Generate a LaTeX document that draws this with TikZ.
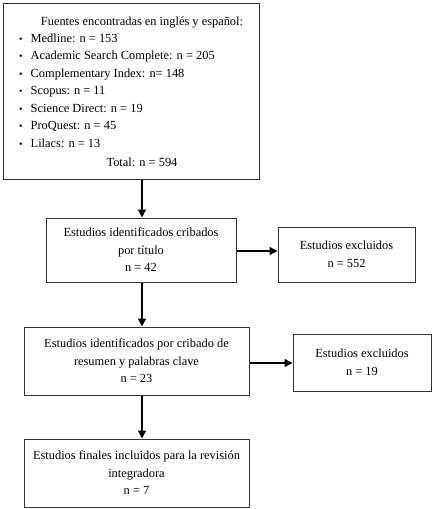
\documentclass[tikz,border=0pt]{standalone}
\usepackage{fontspec}
\setmainfont{Liberation Serif}
\usetikzlibrary{arrows.meta}
\begin{document}
\begin{tikzpicture}[x=1pt,y=-1pt,
  box/.style={draw=black!80, line width=1pt, rectangle, inner sep=0pt, align=center,
    font=\fontsize{12.4}{17.5}\selectfont},
  txt/.style={inner sep=0pt, font=\fontsize{12.4}{17.5}\selectfont},
  arr/.style={-{Triangle[length=8pt,width=8pt]}, line width=1.3pt, black}]
\useasboundingbox (0,0) rectangle (433,509);
% boxes
\node[box, minimum width=256pt, minimum height=176pt] (src) at (131,91) {};
\node[txt, anchor=base] (title) at (142,25) {Fuentes encontradas en inglés y español:};
\foreach \i/\t in {1/{Medline: n = 153},2/{Academic Search Complete: n = 205},
  3/{Complementary Index: n= 148},4/{Scopus: n = 11},5/{Science Direct: n = 19},
  6/{ProQuest: n = 45},7/{Lilacs: n = 13}}{
  \node[txt, anchor=base west] (l\i) at (19,{42+17.55*(\i-1)}) {{\fontsize{10}{10}\selectfont\textbullet}\hspace{8pt}\t};
}
\node[txt, anchor=base] (total) at (142,166) {Total: n = 594};

\node[box, minimum width=190pt, minimum height=64pt] (b2) at (141,250)
  {Estudios identificados cribados\\por título\\n = 42};
\node[box, minimum width=137pt, minimum height=55pt] (e1) at (346.5,254.5)
  {Estudios excluidos\\n = 552};
\node[box, minimum width=225pt, minimum height=68pt] (b3) at (136.5,361)
  {Estudios identificados por cribado de\\resumen y palabras clave\\n = 23};
\node[box, minimum width=138pt, minimum height=57pt] (e2) at (362,362.5)
  {Estudios excluidos\\n = 19};
\node[box, minimum width=225pt, minimum height=68pt] (b4) at (136.5,473)
  {Estudios finales incluidos para la revisión\\integradora\\n = 7};
% connectors
\draw[arr] (src.south -| total) -- (b2.north -| total);
\draw[arr] (b2.east |- 0,251) -- (e1.west |- 0,251);
\draw[arr] (b2.south -| total) -- (b3.north -| total);
\draw[arr] (b3.east |- 0,363) -- (e2.west |- 0,363);
\draw[arr] (b3.south -| total) -- (b4.north -| total);
\end{tikzpicture}
\end{document}
